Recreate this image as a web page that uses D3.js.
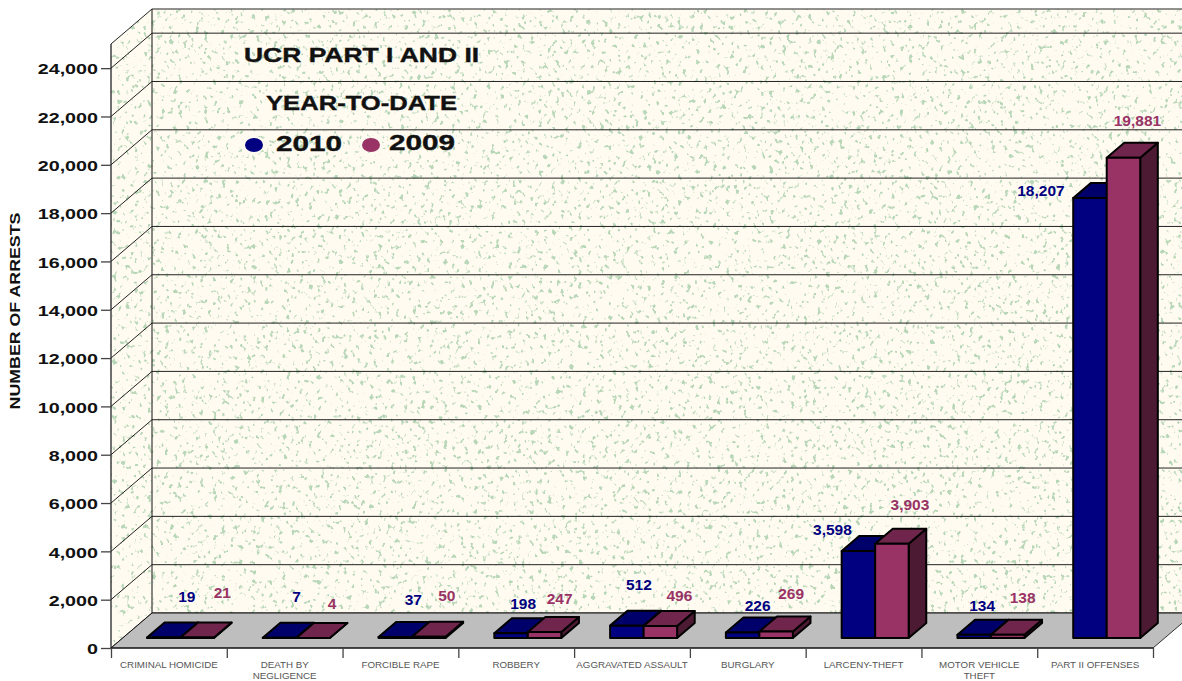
<!DOCTYPE html>
<html>

<head>
    <meta charset="utf-8">
    <style>
        body {
            margin: 0;
            background: #fff;
            font-family: 'Liberation Sans', Arial, sans-serif;
        }

        svg {
            display: block;
        }

        .y .tick text {
            font-size: 14.5px;
            font-weight: bold;
            fill: #111;
        }

        .y .tick line,
        .x .tick line {
            stroke: #444;
            stroke-width: 1.3px;
        }

        .x .domain,
        .y .domain {
            display: none;
        }

        .cat-label {
            font-size: 9.3px;
            fill: #555;
            text-anchor: middle;
        }

        .value-label {
            font-size: 15.5px;
            font-weight: bold;
            text-anchor: middle;
        }

        .title {
            font-weight: bold;
            fill: #111;
            stroke: #111;
            stroke-width: 0.4px;
        }

        .axis-label {
            font-size: 14px;
            font-weight: bold;
            fill: #111;
            text-anchor: middle;
        }
    </style>
</head>

<body>
    <svg width="1182" height="681"></svg>

    <script src="https://d3js.org/d3.v7.min.js"></script>

    <script>
        // data
        let categories = [
            "CRIMINAL HOMICIDE",
            "DEATH BY|NEGLIGENCE",
            "FORCIBLE RAPE",
            "ROBBERY",
            "AGGRAVATED ASSAULT",
            "BURGLARY",
            "LARCENY-THEFT",
            "MOTOR VEHICLE|THEFT",
            "PART II OFFENSES"
        ]
        let years = ["2010", "2009"]
        let values2010 = [19, 7, 37, 198, 512, 226, 3598, 134, 18207]
        let values2009 = [21, 4, 50, 247, 496, 269, 3903, 138, 19881]
        let yTicks = [0, 2000, 4000, 6000, 8000, 10000, 12000, 14000, 16000, 18000, 20000, 22000, 24000]

        // the value labels were placed by hand in the original, offset from the bar top
        let nudge2010 = [[23, -41], [17, -41], [18, -37], [12, -29], [12, -41], [15, -27], [-26, -21], [8, -29], [-49, -7]]
        let nudge2009 = [[25, -44], [19, -34], [18, -41], [15, -33], [19, -30], [15, -38], [18, -39], [15, -37], [14, -37]]

        let colors = {
            "2010": { front: "#000080", top: "#00006a", side: "#00004d" },
            "2009": { front: "#993366", top: "#70264c", side: "#4d1a33" }
        }
        let labelColors = { "2010": "#000080", "2009": "#993366" }

        // 3d box of the plot: front floor edge, and how far back the wall sits
        let wallDx = 41, wallDy = -35
        let left = 111, right = 1153, floorY = 648
        let barInsetDy = -10, barDepthX = 17.6, barDepthY = -15

        let svg = d3.select("svg")

        let x = d3.scaleBand().domain(categories).range([left, right])
        let xInner = d3.scaleBand().domain(years).range([36, 103])
        let xEdges = d3.scaleLinear().domain([0, categories.length]).range([left, right])
        let y = d3.scaleLinear().domain([0, 25000]).range([floorY, 44])

        // speckled wallpaper
        let defs = svg.append("defs")
        let speckle = defs.append("filter")
            .attr("id", "speckle")
            .attr("x", 0).attr("y", 0).attr("width", 1).attr("height", 1)
            .attr("color-interpolation-filters", "sRGB")
        speckle.append("feTurbulence")
            .attr("type", "fractalNoise")
            .attr("baseFrequency", "0.23 0.2")
            .attr("numOctaves", 2)
            .attr("seed", 7)
            .attr("result", "noise")
        speckle.append("feColorMatrix")
            .attr("in", "noise")
            .attr("type", "matrix")
            .attr("values", "0 0 0 0 0.72  0 0 0 0 0.84  0 0 0 0 0.72  9 0 0 0 -5.5")

        defs.append("clipPath").attr("id", "wall-clip")
            .append("path")
            .attr("d", d3.line()([
                [left, y(25000)],
                [left + wallDx, y(25000) + wallDy],
                [1182, y(25000) + wallDy],
                [1182, floorY + wallDy],
                [left + wallDx, floorY + wallDy],
                [left, floorY]
            ]) + "Z")

        let walls = svg.append("g").attr("clip-path", "url(#wall-clip)")
        walls.append("rect")
            .attr("x", left).attr("y", 0)
            .attr("width", 1182 - left).attr("height", floorY)
            .attr("fill", "#fffbf0")
        walls.append("rect")
            .attr("x", left).attr("y", 0)
            .attr("width", 1182 - left).attr("height", floorY)
            .attr("filter", "url(#speckle)")

        // grid lines, side wall then back wall
        let gridValues = yTicks.concat([25000])
        let grid = svg.append("g")
        gridValues.forEach(function (v) {
            grid.append("line")
                .attr("x1", left).attr("y1", y(v))
                .attr("x2", left + wallDx).attr("y2", y(v) + wallDy)
                .attr("stroke", "#222")
            grid.append("line")
                .attr("x1", left + wallDx).attr("y1", y(v) + wallDy)
                .attr("x2", 1182).attr("y2", y(v) + wallDy)
                .attr("stroke", "#222")
        })
        grid.append("line")
            .attr("x1", left).attr("y1", y(25000))
            .attr("x2", left).attr("y2", floorY)
            .attr("stroke", "#222")
            .attr("stroke-width", 1.3)
        grid.append("line")
            .attr("x1", left + wallDx).attr("y1", y(25000) + wallDy)
            .attr("x2", left + wallDx).attr("y2", floorY + wallDy)
            .attr("stroke", "#111")

        // floor
        svg.append("path")
            .attr("d", d3.line()([
                [left, floorY],
                [left + wallDx, floorY + wallDy],
                [right + wallDx, floorY + wallDy],
                [right, floorY]
            ]) + "Z")
            .attr("fill", "#bebebe")
        svg.append("line")
            .attr("x1", left + wallDx).attr("y1", floorY + wallDy)
            .attr("x2", 1182).attr("y2", floorY + wallDy)
            .attr("stroke", "#111")
        svg.append("line")
            .attr("x1", left).attr("y1", floorY)
            .attr("x2", left + wallDx).attr("y2", floorY + wallDy)
            .attr("stroke", "#111")
        svg.append("line")
            .attr("x1", left).attr("y1", floorY)
            .attr("x2", right).attr("y2", floorY)
            .attr("stroke", "#111")
            .attr("stroke-width", 1.3)
        svg.append("line")
            .attr("x1", right).attr("y1", floorY)
            .attr("x2", right + wallDx).attr("y2", floorY + wallDy)
            .attr("stroke", "#333")

        // y axis, labels stretched sideways like the original font
        let yAxis = svg.append("g")
            .attr("class", "y axis")
            .attr("transform", `translate(${left},0)`)
            .call(d3.axisLeft(y).tickValues(yTicks).tickSize(10).tickPadding(3).tickFormat(d3.format(",")))
        yAxis.selectAll(".tick text")
            .attr("x", -13 / 1.36)
            .attr("dy", "0.4em")
            .attr("transform", "scale(1.36,1)")

        // x axis ticks sit on the category edges
        svg.append("g")
            .attr("class", "x axis")
            .attr("transform", `translate(0,${floorY})`)
            .call(d3.axisBottom(xEdges).tickValues(d3.range(categories.length + 1)).tickSize(10).tickFormat(""))

        let catLabels = svg.append("g")
        categories.forEach(function (c) {
            c.split("|").forEach(function (line, i) {
                catLabels.append("text")
                    .attr("class", "cat-label")
                    .attr("transform", `translate(${x(c) + x.step() / 2},${667.5 + i * 11.5}) scale(1.05,1)`)
                    .text(line)
            })
        })

        // one 3d bar
        function drawBar(g, value, cat, year) {
            let x0 = x(cat) + xInner(year)
            let x1 = x0 + xInner.bandwidth()
            let yBase = y(0) + barInsetDy
            let yTop = y(value) + barInsetDy
            let c = colors[year]
            let line = d3.line()
            g.append("path")
                .attr("d", line([[x1, yBase], [x1 + barDepthX, yBase + barDepthY], [x1 + barDepthX, yTop + barDepthY], [x1, yTop]]) + "Z")
                .attr("fill", c.side)
            g.append("path")
                .attr("d", line([[x0, yTop], [x0 + barDepthX, yTop + barDepthY], [x1 + barDepthX, yTop + barDepthY], [x1, yTop]]) + "Z")
                .attr("fill", c.top)
            g.append("rect")
                .attr("x", x0).attr("y", yTop)
                .attr("width", x1 - x0).attr("height", yBase - yTop)
                .attr("fill", c.front)
            g.selectAll("path,rect")
                .attr("stroke", "#000")
                .attr("stroke-width", 2)
                .attr("stroke-linejoin", "round")
        }

        let bars = svg.append("g")
        categories.forEach(function (c, i) {
            drawBar(bars.append("g"), values2010[i], c, "2010")
            drawBar(bars.append("g"), values2009[i], c, "2009")
        })

        // value labels
        let labels = svg.append("g")
        years.forEach(function (year) {
            let vals = year == "2010" ? values2010 : values2009
            let nudge = year == "2010" ? nudge2010 : nudge2009
            categories.forEach(function (c, i) {
                labels.append("text")
                    .attr("class", "value-label")
                    .attr("x", x(c) + xInner(year) + xInner.bandwidth() / 2 + nudge[i][0])
                    .attr("y", y(vals[i]) + barInsetDy + nudge[i][1] + 5)
                    .attr("fill", labelColors[year])
                    .text(d3.format(",")(vals[i]))
            })
        })

        // title block and legend are text inside the chart
        function stretched(txt, px, py, size, sx) {
            return svg.append("text")
                .attr("class", "title")
                .attr("transform", `translate(${px},${py}) scale(${sx},1)`)
                .attr("font-size", size)
                .text(txt)
        }
        stretched("UCR PART I AND II", 244, 62, 21, 1.26)
        stretched("YEAR-TO-DATE", 266, 110, 21, 1.22)
        stretched("2010", 276, 151, 22, 1.35)
        stretched("2009", 389, 150, 22, 1.35)

        svg.append("ellipse")
            .attr("cx", 254).attr("cy", 145).attr("rx", 9).attr("ry", 7)
            .attr("fill", labelColors["2010"])
        svg.append("ellipse")
            .attr("cx", 371).attr("cy", 145).attr("rx", 9).attr("ry", 7)
            .attr("fill", labelColors["2009"])

        // y axis title
        svg.append("text")
            .attr("class", "axis-label")
            .attr("transform", "translate(20,311) rotate(-90) scale(1.27,1)")
            .text("NUMBER OF ARRESTS")
    </script>
</body>

</html>
